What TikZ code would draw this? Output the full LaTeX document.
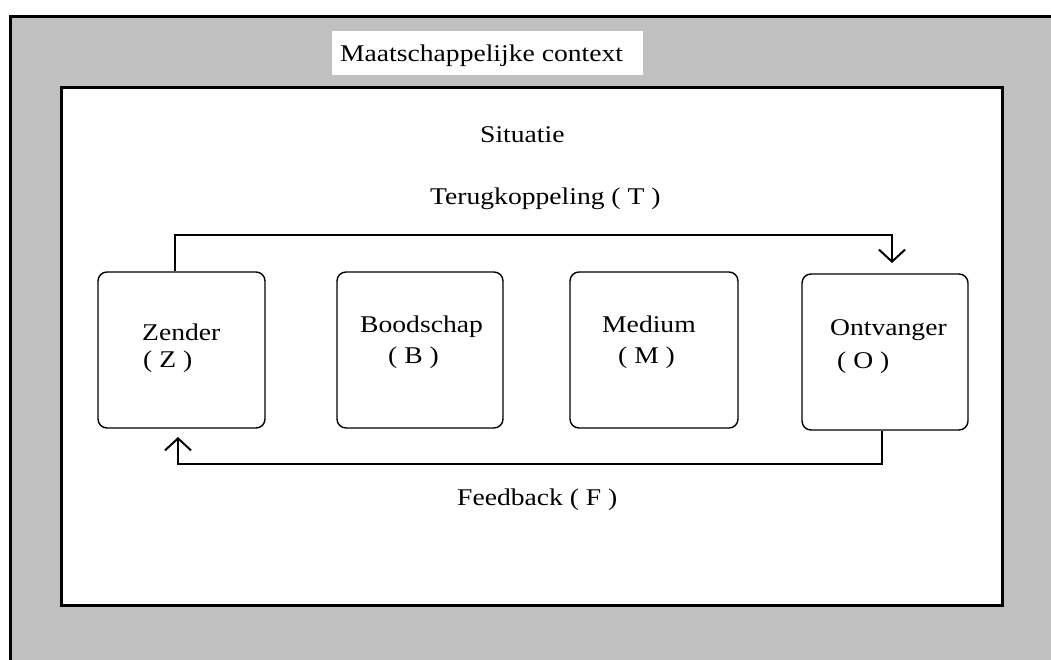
\documentclass[tikz,border=0pt]{standalone}
\usepackage{fontspec}
\setmainfont{Liberation Serif}[FakeStretch=1.15]
\usetikzlibrary{arrows.meta}
\definecolor{bggray}{HTML}{C0C0C0}
\tikzset{
  box/.style={draw, line width=1.4pt, rounded corners=9pt, fill=white, inner sep=0pt},
  lbl/.style={anchor=base west, inner sep=0pt, font=\fontsize{24}{27}\selectfont},
  conn/.style={line width=2pt, -{Straight Barb[length=12pt,width=26pt,line width=2pt]}}
}
\begin{document}
\begin{tikzpicture}[x=1pt,y=-1pt]
\useasboundingbox (0,0) rectangle (1051,660);
\fill[white] (0,0) rectangle (1051,660);
% outer context
\fill[bggray] (10,17) rectangle (1051,660);
\draw[line width=3pt] (10,660) -- (10,17) -- (1051,17);
% title
\node[fill=white, minimum width=311pt, minimum height=44pt, inner sep=0pt] (titlebox) at (487.5,53) {};
\node[lbl] (title) at (340,62) {Maatschappelijke context};
% situation
\node[draw, line width=3pt, fill=white, minimum width=941pt, minimum height=517pt, inner sep=0pt] (sit) at (531.5,346.5) {};
\node[lbl] (sitlbl) at (480,143) {Situatie};
\node[lbl] (tlbl) at (430,205) {Terugkoppeling ( T )};
\node[lbl] (flbl) at (457,505) {Feedback ( F )};
% boxes
\node[box, minimum width=167pt, minimum height=156pt] (Z) at (181.5,350) {};
\node[box, minimum width=166pt, minimum height=156pt] (B) at (420,350) {};
\node[box, minimum width=168pt, minimum height=156pt] (M) at (654,350) {};
\node[box, minimum width=166pt, minimum height=156pt] (O) at (885,352) {};
\node[lbl] (zt) at (142,340) {Zender};
\node[lbl] (zs) at (143,367) {( Z )};
\node[lbl] (bt) at (360,332) {Boodschap};
\node[lbl] (bs) at (388,363) {( B )};
\node[lbl] (mt) at (602,332) {Medium};
\node[lbl] (ms) at (618,363) {( M )};
\node[lbl] (ot) at (830,335) {Ontvanger};
\node[lbl] (os) at (837,368) {( O )};
% connectors
\coordinate (tend) at (892,263);
\coordinate (fend) at (178,437);
\draw[conn] ([xshift=-7pt]Z.north) -- ++(0,-36) -| (tend);
\draw[conn] ([xshift=-3pt]O.south) -- ++(0,33) -| (fend);
\end{tikzpicture}
\end{document}
